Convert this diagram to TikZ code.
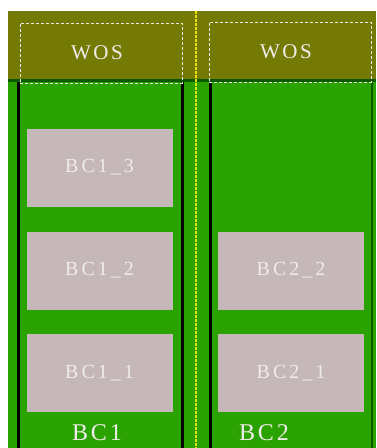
\documentclass[tikz,border=0pt]{standalone}
\usepackage{fontspec}
\setmainfont{Liberation Serif}
\definecolor{olivebg}{HTML}{757A05}
\definecolor{greenbg}{HTML}{2AA300}
\definecolor{darkline}{HTML}{0A5A00}
\definecolor{boxfill}{HTML}{C6B8B8}
\definecolor{txt}{HTML}{F0ECEC}
\definecolor{ydot}{HTML}{E4E400}
\tikzset{
  px/.style={x=1pt,y=-1pt},
  cellbox/.style={fill=boxfill, draw=none, minimum width=146pt, minimum height=78pt, inner sep=0pt,
    text=txt, font=\fontsize{20}{20}\selectfont\addfontfeature{LetterSpace=15}},
  wosbox/.style={draw=txt, dashed, dash pattern=on 3pt off 2pt, line width=1pt, minimum width=162pt, minimum height=60pt, inner sep=0pt,
    text=txt, font=\fontsize{21}{21}\selectfont\addfontfeature{LetterSpace=12}},
  sep/.style={black, line width=3pt},
  bclabel/.style={text=txt, font=\fontsize{24}{24}\selectfont\addfontfeature{LetterSpace=12}}
}
\begin{document}
\begin{tikzpicture}[px]
\useasboundingbox (0,0) rectangle (376,448);
\fill[white] (0,0) rectangle (376,448);
\fill[olivebg] (8,11) rectangle (376,80);
\fill[greenbg] (8,80) rectangle (376,448);
\fill[darkline] (8,79) rectangle (376,82);
% separators
\draw[sep] (18,82) -- (18,448);
\draw[sep] (182,82) -- (182,448);
\draw[sep] (210,82) -- (210,448);
\draw[darkline, line width=1.5pt] (372,82) -- (372,448);
\draw[ydot, line width=1.5pt, dash pattern=on 2.5pt off 1.5pt] (196,11) -- (196,448);
% WOS
\node[wosbox] (wos1) at (101,53) {\hspace*{-8pt}WOS};
\node[wosbox] (wos2) at (290,52) {\hspace*{-8pt}WOS};
% boxes
\node[cellbox] (bc13) at (99.5,167.5) {BC1\_3};
\node[cellbox] (bc12) at (99.5,270.5) {BC1\_2};
\node[cellbox] (bc11) at (99.5,373) {BC1\_1};
\node[cellbox] (bc22) at (291,270.5) {BC2\_2};
\node[cellbox] (bc21) at (291,373) {BC2\_1};
\node[bclabel] (bc1) at (97,433) {BC1};
\node[bclabel] (bc2) at (264,433) {BC2};
\end{tikzpicture}
\end{document}
